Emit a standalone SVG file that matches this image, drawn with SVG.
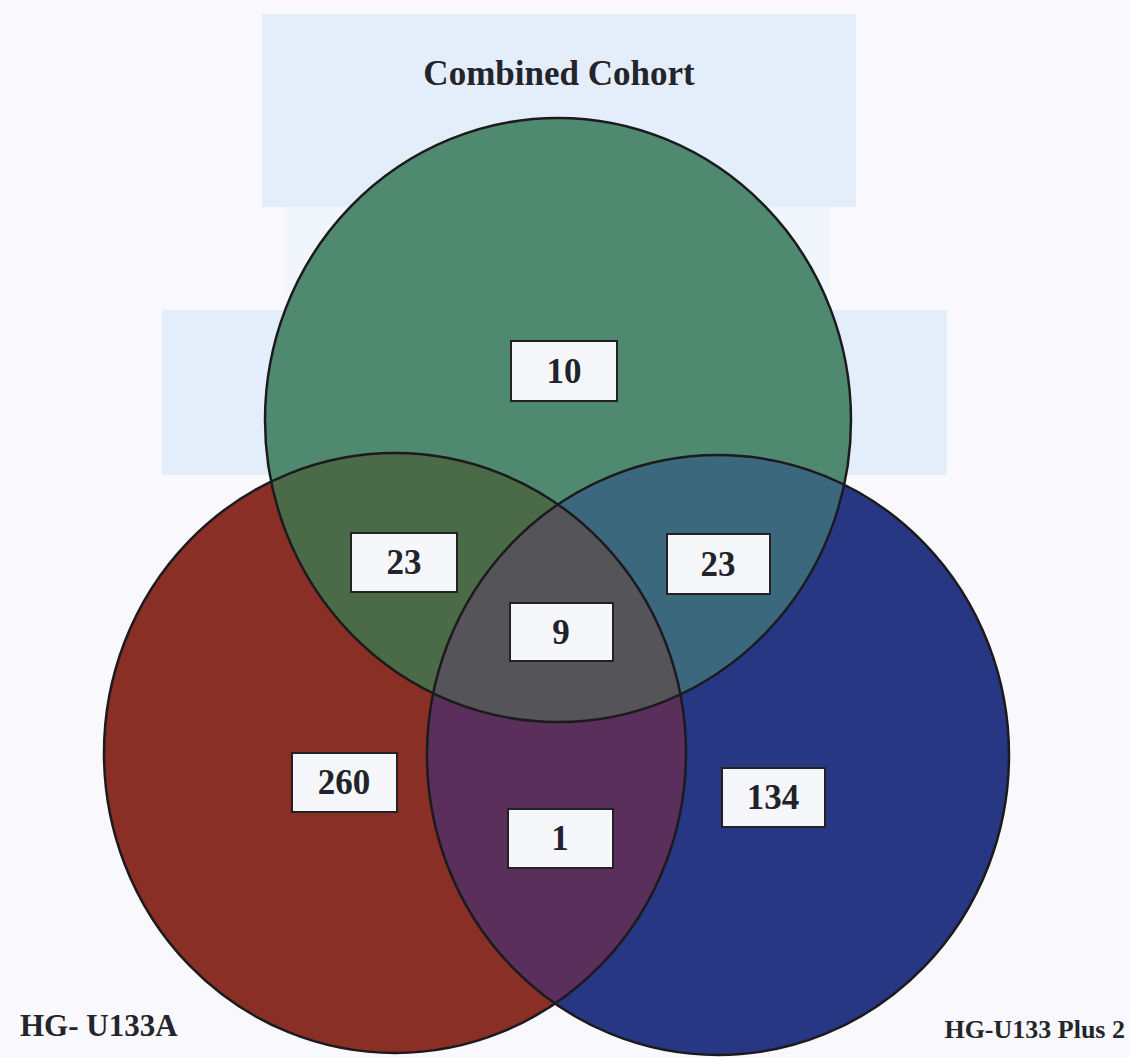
<svg xmlns="http://www.w3.org/2000/svg" width="1130" height="1057" viewBox="0 0 1130 1057">
  <style>
    .title { font-family: "Liberation Serif", "Times New Roman", serif; font-weight: bold; fill: #24242c; }
    .box { fill: #f6f7fb; stroke: #222222; stroke-width: 2; }
    .num { font-family: "Liberation Serif", "Times New Roman", serif; font-weight: bold; font-size: 35px; fill: #22222a; text-anchor: middle; }
    .outline { fill: none; stroke: #1c1a1c; stroke-width: 2.5; }
  </style>
  <defs>
    <clipPath id="clipG"><ellipse cx="558" cy="420" rx="293" ry="302"/></clipPath>
    <clipPath id="clipR"><ellipse cx="395" cy="753" rx="291" ry="300"/></clipPath>
  </defs>

  <!-- page background and faint scan tints -->
  <rect x="0" y="0" width="1130" height="1057" fill="#f9f9fd"/>
  <rect x="262" y="14" width="594" height="193" fill="#e4eefa"/>
  <rect x="285" y="207" width="545" height="85" fill="#f1f5fc"/>
  <rect x="162" y="310" width="785" height="165" fill="#e4eefa"/>

  <!-- set fills -->
  <g id="set-u133a">
    <ellipse cx="395" cy="753" rx="291" ry="300" fill="#8a2f26"/>
  </g>
  <g id="set-plus2">
    <ellipse cx="718" cy="755" rx="291" ry="300" fill="#283783"/>
  </g>
  <g id="set-combined">
    <ellipse cx="558" cy="420" rx="293" ry="302" fill="#4f8a70"/>
  </g>

  <!-- overlap regions -->
  <g id="overlap-combined-u133a" clip-path="url(#clipG)">
    <ellipse cx="395" cy="753" rx="291" ry="300" fill="#4b6a47"/>
  </g>
  <g id="overlap-combined-plus2" clip-path="url(#clipG)">
    <ellipse cx="718" cy="755" rx="291" ry="300" fill="#3c687d"/>
  </g>
  <g id="overlap-u133a-plus2" clip-path="url(#clipR)">
    <ellipse cx="718" cy="755" rx="291" ry="300" fill="#5a2f5b"/>
  </g>
  <g id="overlap-all" clip-path="url(#clipG)">
    <g clip-path="url(#clipR)">
      <ellipse cx="718" cy="755" rx="291" ry="300" fill="#555559"/>
    </g>
  </g>

  <!-- outlines -->
  <g id="outlines">
    <ellipse class="outline" cx="395" cy="753" rx="291" ry="300"/>
    <ellipse class="outline" cx="718" cy="755" rx="291" ry="300"/>
    <ellipse class="outline" cx="558" cy="420" rx="293" ry="302"/>
  </g>

  <!-- set titles -->
  <g id="label-combined">
    <text class="title" x="559" y="85" font-size="35" text-anchor="middle">Combined Cohort</text>
  </g>
  <g id="label-u133a">
    <text class="title" x="20" y="1036" font-size="31">HG- U133A</text>
  </g>
  <g id="label-plus2">
    <text class="title" x="1125" y="1038" font-size="26" text-anchor="end">HG-U133 Plus 2</text>
  </g>

  <!-- counts -->
  <g id="count-combined-only">
    <rect class="box" x="511" y="341" width="106" height="60"/>
    <text class="num" x="564" y="383">10</text>
  </g>
  <g id="count-combined-u133a">
    <rect class="box" x="351" y="533" width="106" height="59"/>
    <text class="num" x="404" y="574">23</text>
  </g>
  <g id="count-combined-plus2">
    <rect class="box" x="667" y="534" width="103" height="60"/>
    <text class="num" x="718" y="576">23</text>
  </g>
  <g id="count-all">
    <rect class="box" x="510" y="603" width="103" height="58"/>
    <text class="num" x="561" y="644">9</text>
  </g>
  <g id="count-u133a-only">
    <rect class="box" x="292" y="753" width="105" height="59"/>
    <text class="num" x="344" y="794">260</text>
  </g>
  <g id="count-u133a-plus2">
    <rect class="box" x="508" y="809" width="105" height="59"/>
    <text class="num" x="560" y="850">1</text>
  </g>
  <g id="count-plus2-only">
    <rect class="box" x="722" y="768" width="103" height="59"/>
    <text class="num" x="773" y="809">134</text>
  </g>
</svg>
